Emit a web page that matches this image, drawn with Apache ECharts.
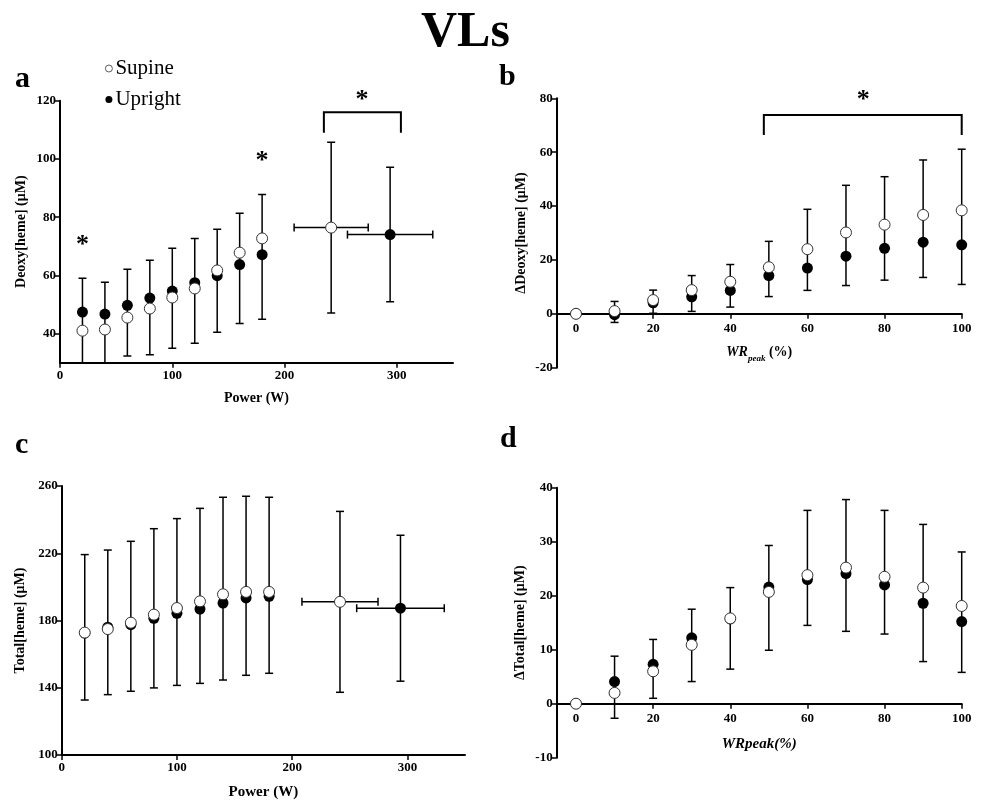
<!DOCTYPE html>
<html>
<head>
<meta charset="utf-8">
<title>VLs</title>
<script src="https://cdn.jsdelivr.net/npm/echarts@6/dist/echarts.min.js"></script>
<style>html,body{margin:0;padding:0;background:#fff;}</style>
</head>
<body>
<div id="main" style="width:983px;height:801px;"></div>
<script type="text/javascript">
// ---- data ----
// panels a & c : absolute power (W)
var power = [20, 40, 60, 80, 100, 120, 140, 160, 180];
var deoxySupine  = [41.0, 41.4, 45.5, 48.6, 52.4, 55.5, 61.7, 67.8, 72.7];
var deoxyUpright = [47.4, 46.7, 49.7, 52.2, 54.6, 57.5, 59.9, 63.7, 67.1];
var deoxyBarLow  = [27.0, 28.0, 32.3, 32.7, 35.0, 36.7, 40.5, 43.5, 44.9];
var deoxyBarHigh = [59.0, 57.6, 62.1, 65.2, 69.3, 72.7, 75.8, 81.3, 87.8];

var totalSupine  = [172.8, 174.9, 178.7, 183.5, 187.4, 191.4, 195.6, 197.0, 197.0];
var totalUpright = [172.5, 176.0, 177.5, 181.3, 184.3, 186.8, 190.4, 193.4, 194.4];
var totalBarLow  = [132.7, 135.9, 137.9, 139.9, 141.4, 142.6, 144.6, 147.4, 148.6];
var totalBarHigh = [219.2, 221.9, 227.1, 234.6, 240.6, 246.7, 253.3, 253.9, 253.3];

// peak points [supine, upright]
var peakPower   = [241.5, 294.0];
var peakPowerSd = [33.0, 38.0];
var deoxyPeak   = [76.4, 74.0];
var deoxyPeakSd = [29.3, 23.1];
var totalPeak   = [191.1, 187.3];
var totalPeakSd = [53.8, 43.4];

// panels b & d : % of peak work rate
var wrPct = [0, 10, 20, 30, 40, 50, 60, 70, 80, 90, 100];
var dDeoxySupine  = [0, 1.0, 5.1, 8.8, 11.9, 17.3, 24.0, 30.2, 33.1, 36.7, 38.4];
var dDeoxyUpright = [0, -0.3, 4.1, 6.3, 8.7, 14.2, 17.0, 21.4, 24.3, 26.6, 25.6];
var dDeoxyBarLow  = [null, -3.2, 0.2, 0.9, 2.5, 6.4, 8.7, 10.5, 12.5, 13.5, 10.9];
var dDeoxyBarHigh = [null, 4.6, 8.8, 14.2, 18.3, 26.9, 38.8, 47.7, 50.9, 57.1, 61.1];

var dTotalSupine  = [0, 2.0, 6.0, 10.9, 15.8, 20.7, 23.8, 25.2, 23.5, 21.5, 18.1];
var dTotalUpright = [0, 4.1, 7.3, 12.2, 15.7, 21.6, 23.0, 24.1, 22.0, 18.6, 15.2];
var dTotalBarLow  = [null, -2.7, 1.0, 4.1, 6.4, 9.9, 14.5, 13.4, 12.9, 7.8, 5.8];
var dTotalBarHigh = [null, 8.8, 11.9, 17.5, 21.5, 29.3, 35.8, 37.8, 35.8, 33.2, 28.1];

// tick labels
var ticksPower = [0, 100, 200, 300];
var ticksPct   = [0, 20, 40, 60, 80, 100];
var ticksA = [40, 60, 80, 100, 120];
var ticksB = [-20, 0, 20, 40, 60, 80];
var ticksC = [100, 140, 180, 220, 260];
var ticksD = [-10, 0, 10, 20, 30, 40];

// significance marks: stars [x, y], brackets [x1, x2, yTop, yEnd]
var starsA   = [[20, 71.6], [180, 100.5], [269, 121.5]];
var bracketA = [[235, 303.6, 116, 109]];
var starsB   = [[74.5, 80.8]];
var bracketB = [[48.7, 100, 73.8, 66.4]];

// ---- chart ----
var FONT = 'Liberation Serif';
var myChart = echarts.init(document.getElementById('main'));

function pairs(xs, ys) {
    return xs.map(function (x, i) { return [x, ys[i]]; });
}
function bars(xs, lo, hi) {
    var out = [];
    for (var i = 0; i < xs.length; i++) {
        if (hi[i] != null) out.push([xs[i], lo[i], hi[i]]);
    }
    return out;
}

var CAP = 4;
var barStyle = { stroke: '#000', lineWidth: 1.5 };
function vBar(params, api) {
    var x = api.value(0);
    var a = api.coord([x, api.value(1)]);
    var b = api.coord([x, api.value(2)]);
    return { type: 'group', children: [
        { type: 'line', shape: { x1: a[0], y1: a[1], x2: b[0], y2: b[1] }, style: barStyle },
        { type: 'line', shape: { x1: a[0] - CAP, y1: a[1], x2: a[0] + CAP, y2: a[1] }, style: barStyle },
        { type: 'line', shape: { x1: b[0] - CAP, y1: b[1], x2: b[0] + CAP, y2: b[1] }, style: barStyle }
    ] };
}
function hBar(params, api) {
    var y = api.value(0);
    var a = api.coord([api.value(1), y]);
    var b = api.coord([api.value(2), y]);
    return { type: 'group', children: [
        { type: 'line', shape: { x1: a[0], y1: a[1], x2: b[0], y2: b[1] }, style: barStyle },
        { type: 'line', shape: { x1: a[0], y1: a[1] - CAP, x2: a[0], y2: a[1] + CAP }, style: barStyle },
        { type: 'line', shape: { x1: b[0], y1: b[1] - CAP, x2: b[0], y2: b[1] + CAP }, style: barStyle }
    ] };
}
function star(params, api) {
    var p = api.coord([api.value(0), api.value(1)]);
    return { type: 'text', x: p[0], y: p[1] + 4, style: {
        text: '*', font: 'bold 26px ' + FONT, fill: '#000', align: 'center', verticalAlign: 'middle'
    } };
}
function bracket(params, api) {
    var p1 = api.coord([api.value(0), api.value(3)]);
    var p2 = api.coord([api.value(0), api.value(2)]);
    var p3 = api.coord([api.value(1), api.value(2)]);
    var p4 = api.coord([api.value(1), api.value(3)]);
    return { type: 'polyline', shape: { points: [p1, p2, p3, p4] },
        style: { stroke: '#000', lineWidth: 2, fill: null } };
}

var labelStyle = { color: '#000', fontFamily: FONT, fontWeight: 'bold', fontSize: 13 };
var nameStyle = { color: '#000', fontFamily: FONT, fontWeight: 'bold', fontSize: 14 };

function xAxis(grid, min, max, ticks, name, nameGap, offset, extraName) {
    return {
        type: 'value', gridIndex: grid, min: min, max: max, offset: offset,
        name: name, nameLocation: 'middle', nameGap: nameGap,
        nameTextStyle: Object.assign({}, nameStyle, extraName || {}),
        axisLine: { show: true, onZero: false, lineStyle: { color: '#000', width: 2 } },
        axisTick: { show: true, length: 5, customValues: ticks, lineStyle: { color: '#000', width: 1.5 } },
        axisLabel: Object.assign({ margin: offset ? 8 : 6, customValues: ticks }, labelStyle),
        splitLine: { show: false }
    };
}
function yAxis(grid, min, max, ticks, name, nameGap) {
    return {
        type: 'value', gridIndex: grid, min: min, max: max,
        name: name, nameLocation: 'middle', nameGap: nameGap,
        nameTextStyle: nameStyle,
        axisLine: { show: true, onZero: false, lineStyle: { color: '#000', width: 2 } },
        axisTick: { show: true, length: 5, customValues: ticks, lineStyle: { color: '#000', width: 1.5 } },
        axisLabel: Object.assign({ margin: 4, customValues: ticks }, labelStyle),
        splitLine: { show: false }
    };
}

var supineStyle = { color: '#fff', borderColor: '#333', borderWidth: 1, opacity: 1 };
var uprightStyle = { color: '#000', opacity: 1 };

function panelSeries(grid, xs, sup, upr, lo, hi, peakSup, peakUpr, peakYSd, clip) {
    var list = [];
    var vdata = bars(xs, lo, hi);
    var hdata = [];
    var supData = pairs(xs, sup);
    var uprData = pairs(xs, upr);
    if (peakSup) {
        vdata.push([peakPower[0], peakSup - peakYSd[0], peakSup + peakYSd[0]]);
        vdata.push([peakPower[1], peakUpr - peakYSd[1], peakUpr + peakYSd[1]]);
        hdata.push([peakSup, peakPower[0] - peakPowerSd[0], peakPower[0] + peakPowerSd[0]]);
        hdata.push([peakUpr, peakPower[1] - peakPowerSd[1], peakPower[1] + peakPowerSd[1]]);
        supData.push([peakPower[0], peakSup]);
        uprData.push([peakPower[1], peakUpr]);
    }
    list.push({ type: 'custom', xAxisIndex: grid, yAxisIndex: grid, renderItem: vBar,
        encode: { x: 0, y: [1, 2] }, data: vdata, clip: clip, z: 1, silent: true });
    if (hdata.length) {
        list.push({ type: 'custom', xAxisIndex: grid, yAxisIndex: grid, renderItem: hBar,
            encode: { x: [1, 2], y: 0 }, data: hdata, z: 1, silent: true });
    }
    list.push({ type: 'scatter', name: 'Upright', xAxisIndex: grid, yAxisIndex: grid,
        data: uprData, symbol: 'circle', symbolSize: 11, itemStyle: uprightStyle, z: 3 });
    list.push({ type: 'scatter', name: 'Supine', xAxisIndex: grid, yAxisIndex: grid,
        data: supData, symbol: 'circle', symbolSize: 11, itemStyle: supineStyle, z: 4 });
    return list;
}

var series = [].concat(
    panelSeries(0, power, deoxySupine, deoxyUpright, deoxyBarLow, deoxyBarHigh, deoxyPeak[0], deoxyPeak[1], deoxyPeakSd, true),
    panelSeries(1, wrPct, dDeoxySupine, dDeoxyUpright, dDeoxyBarLow, dDeoxyBarHigh, null, null, null, false),
    panelSeries(2, power, totalSupine, totalUpright, totalBarLow, totalBarHigh, totalPeak[0], totalPeak[1], totalPeakSd, false),
    panelSeries(3, wrPct, dTotalSupine, dTotalUpright, dTotalBarLow, dTotalBarHigh, null, null, null, false),
    [
        { type: 'custom', xAxisIndex: 0, yAxisIndex: 0, renderItem: star, data: starsA, clip: false, z: 5, silent: true },
        { type: 'custom', xAxisIndex: 0, yAxisIndex: 0, renderItem: bracket, data: bracketA, clip: false, z: 5, silent: true },
        { type: 'custom', xAxisIndex: 1, yAxisIndex: 1, renderItem: star, data: starsB, clip: false, z: 5, silent: true },
        { type: 'custom', xAxisIndex: 1, yAxisIndex: 1, renderItem: bracket, data: bracketB, clip: false, z: 5, silent: true }
    ]
);

var letterStyle = { fill: '#000', font: 'bold 30px ' + FONT };

var option = {
    animation: false,
    backgroundColor: '#fff',
    textStyle: { fontFamily: FONT },
    grid: [
        { left: 60, top: 100.7, width: 393, height: 262 },
        { left: 556.7, top: 98.3, width: 405, height: 269.4 },
        { left: 61.7, top: 486, width: 403.3, height: 269 },
        { left: 556.7, top: 487.7, width: 405, height: 270 }
    ],
    legend: {
        data: ['Supine', 'Upright'], orient: 'vertical', left: 100, top: 53,
        itemWidth: 7, itemHeight: 7, itemGap: 10, icon: 'circle', selectedMode: false,
        itemStyle: { borderWidth: 0.8 },
        textStyle: { color: '#000', fontFamily: FONT, fontSize: 21, padding: [0, 0, 0, -2] }
    },
    xAxis: [
        xAxis(0, 0, 350, ticksPower, 'Power (W)', 29, 0),
        xAxis(1, -5, 100, ticksPct, '{i|WR}{s|peak}{n| (%)}', 29, -53.9, {
            rich: {
                i: { fontFamily: FONT, fontWeight: 'bold', fontStyle: 'italic', fontSize: 14, lineHeight: 20 },
                s: { fontFamily: FONT, fontWeight: 'bold', fontStyle: 'italic', fontSize: 9, lineHeight: 10, verticalAlign: 'bottom' },
                n: { fontFamily: FONT, fontWeight: 'bold', fontSize: 14, lineHeight: 20 }
            }
        }),
        xAxis(2, 0, 350, ticksPower, 'Power (W)', 30, 0, { fontSize: 15 }),
        xAxis(3, -5, 100, ticksPct, 'WRpeak(%)', 33, -54, { fontSize: 15, fontStyle: 'italic' })
    ],
    yAxis: [
        yAxis(0, 30, 120, ticksA, 'Deoxy[heme] (μM)', 32),
        yAxis(1, -20, 80, ticksB, 'ΔDeoxy[heme] (μM)', 28),
        yAxis(2, 100, 260, ticksC, 'Total[heme] (μM)', 34),
        yAxis(3, -10, 40, ticksD, 'ΔTotal[heme] (μM)', 29)
    ],
    graphic: [
        { type: 'text', left: 421, top: 8, style: { text: 'VLs', fill: '#000', font: 'bold 50px ' + FONT } },
        { type: 'text', left: 15, top: 64, style: Object.assign({ text: 'a' }, letterStyle) },
        { type: 'text', left: 499, top: 62, style: Object.assign({ text: 'b' }, letterStyle) },
        { type: 'text', left: 15, top: 430, style: Object.assign({ text: 'c' }, letterStyle) },
        { type: 'text', left: 500, top: 424, style: Object.assign({ text: 'd' }, letterStyle) }
    ],
    series: series
};

myChart.setOption(option);
</script>
</body>
</html>
